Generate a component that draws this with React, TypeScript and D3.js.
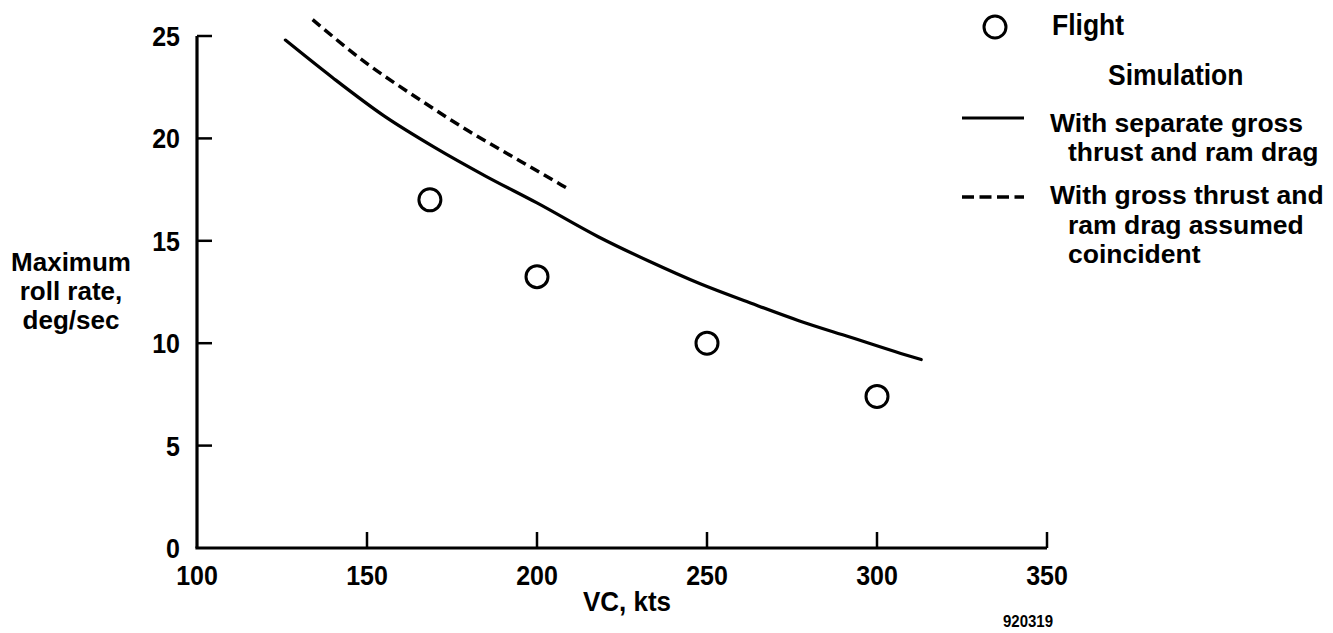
import React from "react";
import * as d3 from "d3";

// ---- data ----
const xTicks = [100, 150, 200, 250, 300, 350];
const yTicks = [0, 5, 10, 15, 20, 25];

const flightVC = [168.5, 200, 250, 300];
const flightRate = [17.0, 13.25, 10.0, 7.4];

const separateVC = [126, 140, 155, 170, 185, 200, 218, 233, 248, 263, 277, 292, 307, 313];
const separateRate = [24.8, 22.95, 21.1, 19.55, 18.15, 16.85, 15.2, 14.0, 12.9, 11.95, 11.1, 10.3, 9.5, 9.2];

const coincidentVC = [134, 150, 165, 180, 195, 209];
const coincidentRate = [25.8, 23.65, 21.95, 20.35, 18.9, 17.55];

const yLabelLines = ["Maximum", "roll rate,", "deg/sec"];
const xLabel = "VC, kts";
const figNumber = "920319";
const legendFlight = "Flight";
const legendSimulation = "Simulation";
const legendSeparate = ["With separate gross", "thrust and ram drag"];
const legendCoincident = ["With gross thrust and", "ram drag assumed", "coincident"];

const FONT = "'Liberation Sans', Arial, Helvetica, sans-serif";

function T({ x, y, size, anchor = "start", sy = 1.0, children }: any) {
  return (
    <text
      transform={`translate(${x},${y}) scale(1,${sy})`}
      fontSize={size}
      textAnchor={anchor}
      fontFamily={FONT}
      fontWeight="bold"
      fill="#000"
    >
      {children}
    </text>
  );
}

export default function App() {
  const W = 1333;
  const H = 633;
  const x = d3.scaleLinear().domain([100, 350]).range([197, 1047]);
  const y = d3.scaleLinear().domain([0, 25]).range([548, 36]);

  const line = d3
    .line<[number, number]>()
    .x((d) => x(d[0]))
    .y((d) => y(d[1]))
    .curve(d3.curveMonotoneX);

  const sepPts = separateVC.map((v, i) => [v, separateRate[i]] as [number, number]);
  const coPts = coincidentVC.map((v, i) => [v, coincidentRate[i]] as [number, number]);

  const sw = 3.2;

  return (
    <svg
      width={W}
      height={H}
      style={{ position: "absolute", left: 0, top: 0, background: "#fff" }}
    >
      <rect width={W} height={H} fill="#fff" />
      {/* axes */}
      <line x1={x(100)} y1={y(25)} x2={x(100)} y2={y(0)} stroke="#000" strokeWidth={sw} />
      <line x1={x(100) - 1.6} y1={y(0)} x2={x(350)} y2={y(0)} stroke="#000" strokeWidth={sw} />
      {yTicks.filter((t) => t > 0).map((t) => (
        <line key={"yt" + t} x1={x(100)} x2={x(100) + 15} y1={y(t)} y2={y(t)} stroke="#000" strokeWidth={2.5} />
      ))}
      {xTicks.filter((t) => t > 100).map((t) => (
        <line key={"xt" + t} x1={x(t)} x2={x(t)} y1={y(0)} y2={y(0) - 16} stroke="#000" strokeWidth={2.5} />
      ))}
      {yTicks.map((t) => (
        <T key={"yl" + t} x={180} y={y(t) + 10} size={25} anchor="end" sy={1.08}>
          {t}
        </T>
      ))}
      {xTicks.map((t) => (
        <T key={"xl" + t} x={x(t)} y={585} size={25} anchor="middle" sy={1.08}>
          {t}
        </T>
      ))}
      {/* axis titles */}
      {yLabelLines.map((s, i) => (
        <T key={"ya" + i} x={71} y={271 + i * 29} size={26}>
          <tspan textAnchor="middle">{s}</tspan>
        </T>
      ))}
      <T x={627} y={611} size={26} anchor="middle" sy={1.08}>
        {xLabel}
      </T>
      <T x={1028} y={627} size={15} anchor="middle" sy={1.08}>
        {figNumber}
      </T>

      {/* curves */}
      <path d={line(sepPts) || ""} fill="none" stroke="#000" strokeWidth={sw} strokeLinecap="round" />
      <path d={line(coPts) || ""} fill="none" stroke="#000" strokeWidth={3.5} strokeDasharray="10,5.5" />

      {/* flight points */}
      {flightVC.map((v, i) => (
        <circle key={"f" + i} cx={x(v)} cy={y(flightRate[i])} r={11} fill="none" stroke="#000" strokeWidth={3} />
      ))}

      {/* legend */}
      <circle cx={995} cy={27} r={11} fill="none" stroke="#000" strokeWidth={3} />
      <T x={1052} y={35} size={26.5} sy={1.08}>{legendFlight}</T>
      <T x={1108} y={85} size={26.5} sy={1.08}>{legendSimulation}</T>
      <line x1={962} x2={1024} y1={118} y2={118} stroke="#000" strokeWidth={sw} />
      <T x={1050} y={132} size={26.5}>{legendSeparate[0]}</T>
      <T x={1068} y={161} size={26.5}>{legendSeparate[1]}</T>
      <line x1={962} x2={1024} y1={197} y2={197} stroke="#000" strokeWidth={3.5} strokeDasharray="12,5.5" />
      {legendCoincident.map((s, i) => (
        <T key={"lc" + i} x={i === 0 ? 1050 : 1068} y={204 + i * 29.5} size={26.5}>
          {s}
        </T>
      ))}
    </svg>
  );
}
